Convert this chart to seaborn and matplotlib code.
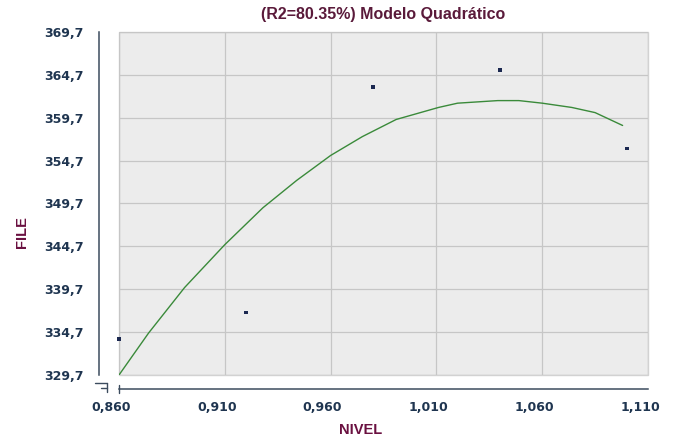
import matplotlib
matplotlib.use("Agg")
import matplotlib.pyplot as plt
import matplotlib.transforms as mtransforms
from matplotlib.lines import Line2D
import seaborn as sns
import pandas as pd

# observed points
nivel = [0.860, 0.920, 0.980, 1.040, 1.100]
file_vals = [333.9, 337.0, 363.3, 365.3, 356.1]

# quadratic model curve
curve_x = [0.860, 0.874, 0.891, 0.910, 0.928, 0.944, 0.960, 0.975, 0.991,
           1.011, 1.020, 1.039, 1.049, 1.060, 1.074, 1.085, 1.098]
curve_y = [329.7, 334.6, 339.9, 344.9, 349.2, 352.4, 355.3, 357.5, 359.5,
           360.9, 361.4, 361.7, 361.7, 361.4, 360.9, 360.3, 358.8]

x_ticks = [0.860, 0.910, 0.960, 1.010, 1.060, 1.110]
x_labels = ["0,860", "0,910", "0,960", "1,010", "1,060", "1,110"]
y_ticks = [329.7, 334.7, 339.7, 344.7, 349.7, 354.7, 359.7, 364.7, 369.7]
y_labels = ["329,7", "334,7", "339,7", "344,7", "349,7", "354,7", "359,7", "364,7", "369,7"]

sns.set_style("white")
plt.rcParams['font.family'] = ['Liberation Sans', 'DejaVu Sans']

pts = pd.DataFrame({"NIVEL": nivel, "FILE": file_vals})
curve = pd.DataFrame({"NIVEL": curve_x, "FILE": curve_y})

W, H = 679, 441
fig = plt.figure(figsize=(W / 100, H / 100), dpi=100)
ax = fig.add_axes([119 / W, 1 - 375 / H, 529 / W, 343 / H])
ax.patch.set_facecolor("#ececec")
ax.patch.set_edgecolor("#d2d2d2")
ax.patch.set_linewidth(1.0)

sns.lineplot(data=curve, x="NIVEL", y="FILE", ax=ax, color="#3a8a3a", linewidth=1.0)
sns.scatterplot(data=pts, x="NIVEL", y="FILE", ax=ax, marker="s", s=7, color="#1b2850",
                edgecolor="none", zorder=5, clip_on=False)

ax.set_xlim(0.860, 1.110)
ax.set_ylim(329.7, 369.7)
ax.set_xticks(x_ticks)
ax.set_xticklabels(x_labels)
ax.set_yticks(y_ticks)
ax.set_yticklabels(y_labels)
ax.grid(True, color="#c6c6c6", linewidth=0.9)
ax.set_axisbelow(True)

axis_col = "#3c4c5e"
label_col = "#1f3550"
for side in ["top", "right"]:
    ax.spines[side].set_visible(False)
ax.spines["left"].set_position(("outward", 14.4))
ax.spines["bottom"].set_position(("outward", 10))
for side in ["left", "bottom"]:
    ax.spines[side].set_color(axis_col)
    ax.spines[side].set_linewidth(1.1)
ax.tick_params(axis="y", direction="out", length=2.5, color=axis_col, labelsize=9,
               labelcolor=label_col, pad=8.5)
ax.tick_params(axis="x", direction="out", length=4, color=axis_col, labelsize=9,
               labelcolor=label_col, pad=4.5)
shift = mtransforms.ScaledTranslation(-8 / 100, 0, fig.dpi_scale_trans)
for lab in ax.get_xticklabels():
    lab.set_fontweight("bold")
    lab.set_family("DejaVu Sans")
    lab.set_transform(lab.get_transform() + shift)
for lab in ax.get_yticklabels():
    lab.set_fontweight("bold")
    lab.set_family("DejaVu Sans")

ax.set_xlabel("NIVEL", color="#6a1040", fontsize=10.5, fontweight="bold")
ax.set_ylabel("FILE", color="#6a1040", fontsize=10.5, fontweight="bold")
ax.xaxis.set_label_coords((361 - 119) / 529, -(430 - 375) / 343)
ax.yaxis.set_label_coords((22 - 119) / 529, (375 - 232) / 343)
ax.xaxis.label.set_verticalalignment("center")
ax.yaxis.label.set_verticalalignment("center")
ax.set_title("(R2=80.35%) Modelo Quadrático", color="#5a1a3a", fontsize=11.5,
             fontweight="bold", pad=9)

# axis break marks at the corner
def px(x, y):
    return x / W, 1 - y / H

for (x0, y0), (x1, y1) in [((95, 383), (107, 383)), ((107, 383), (107, 392)),
                           ((101, 388), (107, 388)), ((119, 385), (119, 393))]:
    a, b = px(x0, y0)
    c, d = px(x1, y1)
    fig.add_artist(Line2D([a, c], [b, d], color=axis_col, linewidth=1.0,
                          transform=fig.transFigure))

fig.savefig("out.png", dpi=100, facecolor="white")
